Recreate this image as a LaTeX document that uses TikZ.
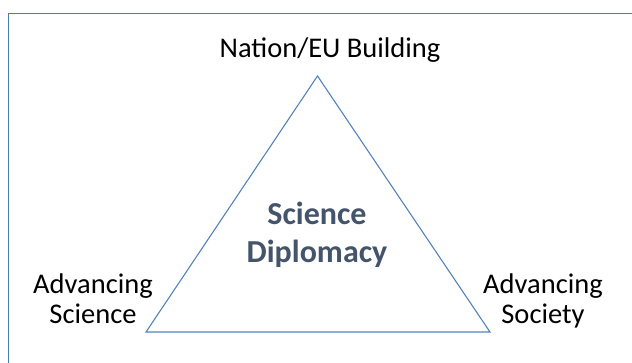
\documentclass[tikz,border=0pt]{standalone}
\usepackage{fontspec}
\setmainfont{Carlito}
\usepackage{xcolor}

\definecolor{frameblue}{HTML}{4A7AAE}
\definecolor{triblue}{HTML}{5482B8}
\definecolor{slate}{HTML}{44546A}

\tikzset{
    corner/.style={font=\fontsize{28.5}{30}\selectfont,align=center,anchor=base},
    hub/.style={font=\fontsize{32}{38}\selectfont\bfseries,text=slate,align=center,anchor=base}
}

\begin{document}
\begin{tikzpicture}[x=1pt,y=-1pt]
        \useasboundingbox (0,0) rectangle (632,362);
        \clip (0,0) rectangle (632,362);
        \draw [frameblue,line width=1.8pt] (8.5,13.5) rectangle (700,420);
        % triangle corners
        \coordinate (apex) at (317.5,76);
        \coordinate (lcorner) at (146,332);
        \coordinate (rcorner) at (490,332);
        \draw [triblue,line width=1.1pt,line join=miter] (apex) -- (lcorner) -- (rcorner) -- cycle;
        % labels (base = last line)
        \node [corner] (nation) at (330,57) {Nation/EU Building};
        \node [corner] (science) at (93,323) {Advancing\\Science};
        \node [corner] (society) at (543,323) {Advancing\\Society};
        \node [hub] (diplomacy) at (317,262) {Science\\Diplomacy};
\end{tikzpicture}
\end{document}
